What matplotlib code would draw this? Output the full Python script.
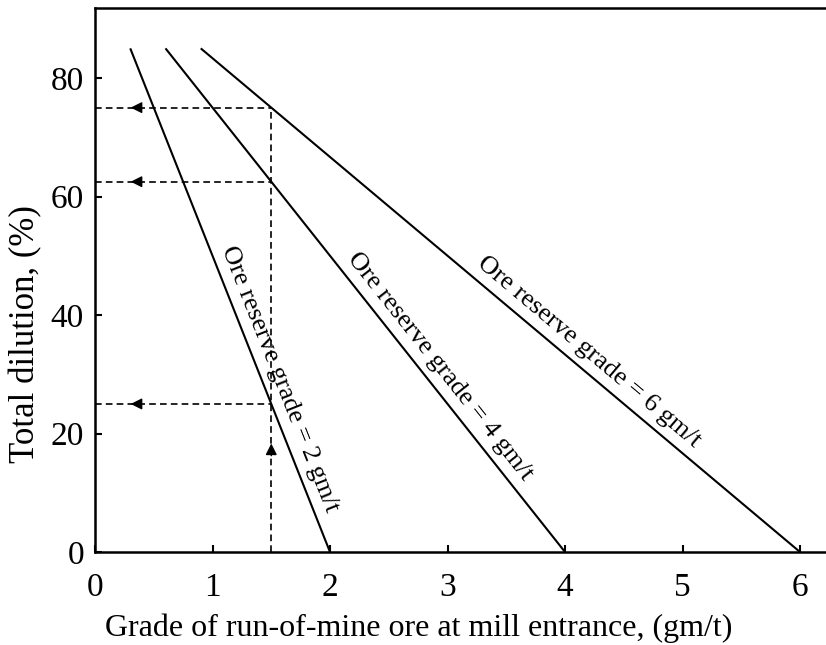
import numpy as np
import matplotlib
matplotlib.use("Agg")
import matplotlib.pyplot as plt

plt.rcParams['font.family'] = ['Liberation Serif', 'DejaVu Serif']

# reserve grade lines (gm/t), drawn from 85 % dilution down to 0 %
reserve_grades = [2, 4, 6]
rom_grade_top = [0.3, 0.6, 0.9]
dilution_top = 85
dilution_bottom = 0

# worked example: ROM grade of 1.5 gm/t read across to dilution
rom_example = 1.5
dilution_read = [75, 62.5, 25]

# where the line labels sit (dilution value along each line)
label_dilution = [28.2, 29.5, 31.5]
labels = ["Ore reserve grade = %d gm/t" % g for g in reserve_grades]

xticks = [0, 1, 2, 3, 4, 5, 6]
yticks = [0, 20, 40, 60, 80]

fig = plt.figure(figsize=(8.26, 6.45), dpi=100)
ax = fig.add_axes([0.115, 0.144, 0.885, 0.8435])
ax.set_xlim(0, 6.22)
ax.set_ylim(0, 91.8)

# reserve grade lines
for xt, g in zip(rom_grade_top, reserve_grades):
    ax.plot([xt, g], [dilution_top, dilution_bottom], color="black", lw=1.5, solid_capstyle="butt")

# dashed read-off lines
ax.plot([rom_example, rom_example], [0, max(dilution_read)], color="black", lw=1.2, ls=(0, (4, 2.5)))
for d in dilution_read:
    ax.plot([0, rom_example], [d, d], color="black", lw=1.2, ls=(0, (4, 2.5)))
    ax.annotate("", xy=(0.28, d), xytext=(0.42, d),
                arrowprops=dict(arrowstyle="-|>", color="black", lw=1.0, mutation_scale=17))
ax.annotate("", xy=(rom_example, 18.8), xytext=(rom_example, 15.8),
            arrowprops=dict(arrowstyle="-|>", color="black", lw=1.0, mutation_scale=17))

# labels along the lines, rotated to the on-screen slope, shifted off the line
off_pt = 12.5
for xt, g, ly, txt in zip(rom_grade_top, reserve_grades, label_dilution, labels):
    p0 = ax.transData.transform((xt, dilution_top))
    p1 = ax.transData.transform((g, dilution_bottom))
    ang = np.degrees(np.arctan2(p1[1] - p0[1], p1[0] - p0[0]))
    lx = np.interp(ly, [dilution_bottom, dilution_top], [g, xt])
    a = np.radians(ang)
    ax.annotate(txt, xy=(lx, ly), xytext=(-np.sin(a) * off_pt, np.cos(a) * off_pt),
                textcoords="offset points", rotation=ang, rotation_mode="anchor",
                ha="center", va="center", fontsize=19)

ax.set_xticks(xticks)
ax.set_yticks(yticks)
ax.tick_params(direction="in", length=5, width=1.5, labelsize=24)
ax.tick_params(axis="x", pad=15)
ax.tick_params(axis="y", pad=8)
for s in ["left", "bottom", "top"]:
    ax.spines[s].set_linewidth(1.8)
ax.spines["right"].set_visible(False)

ax.set_xlabel("Grade of run-of-mine ore at mill entrance, (gm/t)", fontsize=23)
ax.xaxis.set_label_coords(0.443, -0.113)
ax.set_ylabel("Total dilution, (%)", fontsize=25)
ax.yaxis.set_label_coords(-0.0725, 0.40)

fig.savefig("out.png", dpi=100)
